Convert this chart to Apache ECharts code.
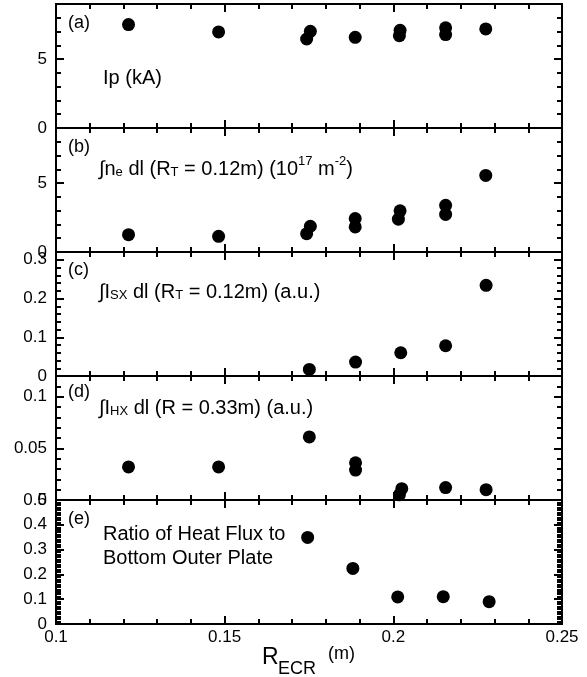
<!DOCTYPE html>
<html>
<head>
<meta charset="utf-8">
<script src="https://cdn.jsdelivr.net/npm/echarts@6/dist/echarts.min.js"></script>
<style>
    html, body { margin: 0; padding: 0; background: #fff; }
    #chart { width: 587px; height: 677px; }
</style>
</head>
<body>
<div id="chart"></div>
<script>
// shared x axis (R_ECR, m)
const xMin = 0.1;
const xMax = 0.25;
const xMajor = 0.05;

// (a) plasma current Ip (kA)
const ipR = [0.1215, 0.1482, 0.1754, 0.1743, 0.1887, 0.2020, 0.2018, 0.2155, 0.2155, 0.2274];
const ipKA = [7.51, 6.97, 7.02, 6.46, 6.58, 7.09, 6.70, 7.27, 6.78, 7.19];

// (b) line integrated density (10^17 m^-2)
const neR = [0.1215, 0.1482, 0.1754, 0.1743, 0.1887, 0.1887, 0.2020, 0.2015, 0.2155, 0.2155, 0.2274];
const neInt = [1.26, 1.14, 1.87, 1.33, 2.43, 1.82, 2.99, 2.38, 3.39, 2.73, 5.56];

// (c) soft X-ray (a.u.)
const sxR = [0.1751, 0.1888, 0.2022, 0.2155, 0.2275];
const sxInt = [0.017, 0.036, 0.060, 0.078, 0.234];

// (d) hard X-ray (a.u.)
const hxR = [0.1215, 0.1482, 0.1751, 0.1888, 0.1888, 0.2025, 0.2018, 0.2155, 0.2275];
const hxInt = [0.032, 0.032, 0.061, 0.036, 0.029, 0.011, 0.005, 0.012, 0.010];

// (e) ratio of heat flux to bottom outer plate
const heatR = [0.1746, 0.1880, 0.2013, 0.2148, 0.2284];
const heatRatio = [0.349, 0.224, 0.109, 0.110, 0.090];

const panels = [
    {x: ipR, y: ipKA, max: 9, major: 5, minor: 1},
    {x: neR, y: neInt, max: 9, major: 5, minor: 1},
    {x: sxR, y: sxInt, max: 0.32, major: 0.1, minor: 0.02},
    {x: hxR, y: hxInt, max: 0.12, major: 0.05, minor: 0.01},
    {x: heatR, y: heatRatio, max: 0.5, major: 0.1, minor: 0.01}
];

const FONT = '"Liberation Sans", Arial, sans-serif';
const GRID_LEFT = 56;
const GRID_WIDTH = 506;
const GRID_TOP = 4;
const GRID_H = 124;

// fresh objects every time, echarts merges defaults into option objects
function tickLine() {
    return {color: '#000', width: 2};
}

function axisLine() {
    return {show: true, onZero: false, lineStyle: {color: '#000', width: 2}};
}

const grid = [];
const xAxis = [];
const yAxis = [];
const series = [];

panels.forEach((p, i) => {
    const last = i === panels.length - 1;
    grid.push({
        left: GRID_LEFT, width: GRID_WIDTH,
        top: GRID_TOP + i * GRID_H, height: GRID_H
    });

    const xIndex = xAxis.length;
    ['bottom', 'top'].forEach(pos => {
        xAxis.push({
            gridIndex: i, type: 'value', position: pos,
            min: xMin, max: xMax, interval: xMajor,
            axisLine: axisLine(),
            axisTick: {show: true, inside: true, length: 8, lineStyle: tickLine()},
            minorTick: {show: true, splitNumber: 5, length: 5, lineStyle: tickLine()},
            splitLine: {show: false},
            minorSplitLine: {show: false},
            axisLabel: {
                show: last && pos === 'bottom',
                color: '#000', fontFamily: FONT, fontSize: 17, margin: 5
            }
        });
    });

    // minor and major ticks kept on separate axes, the max is not always on a major step
    const yIndex = yAxis.length + 1;
    ['left', 'right'].forEach(pos => {
        yAxis.push({
            gridIndex: i, type: 'value', position: pos,
            min: 0, max: p.max, interval: p.minor,
            axisLine: axisLine(),
            axisTick: {show: true, inside: true, length: 5, lineStyle: tickLine()},
            splitLine: {show: false},
            axisLabel: {show: false}
        });
        yAxis.push({
            gridIndex: i, type: 'value', position: pos,
            min: 0, max: p.max, interval: p.major,
            axisLine: axisLine(),
            axisTick: {show: true, inside: true, length: 8, lineStyle: tickLine()},
            splitLine: {show: false},
            axisLabel: {
                show: pos === 'left',
                showMinLabel: true,
                showMaxLabel: p.max === 0.5,
                color: '#000', fontFamily: FONT, fontSize: 17, margin: 9
            }
        });
    });

    series.push({
        type: 'scatter',
        xAxisIndex: xIndex,
        yAxisIndex: yIndex,
        symbol: 'circle',
        symbolSize: 13,
        itemStyle: {color: '#000', opacity: 1},
        data: p.x.map((v, k) => [v, p.y[k]])
    });
});

function label(text, x, y, size) {
    return {
        type: 'text', x: x, y: y, silent: true,
        style: {
            text: text, fill: '#000', align: 'left', verticalAlign: 'middle',
            font: size + 'px ' + FONT
        }
    };
}

function richLabel(text, x, y) {
    return {
        type: 'text', x: x, y: y, silent: true,
        style: {
            text: text, fill: '#000', align: 'left', verticalAlign: 'middle',
            font: '20px ' + FONT,
            rich: {
                m: {fontSize: 20, fontFamily: FONT, lineHeight: 24, verticalAlign: 'bottom', fill: '#000'},
                sb: {fontSize: 13, fontFamily: FONT, lineHeight: 17, verticalAlign: 'bottom', fill: '#000'},
                sp: {fontSize: 13, fontFamily: FONT, lineHeight: 15, verticalAlign: 'top', fill: '#000'}
            }
        }
    };
}

const graphic = [
    label('(a)', 68, 23, 18),
    label('Ip (kA)', 103, 78, 20),
    label('(b)', 68, 147, 18),
    richLabel('{m|\u222Bn}{sb|e}{m| dl (R}{sb|T}{m| = 0.12m) (10}{sp|17}{m| m}{sp|-2}{m|)}', 99, 167),
    label('(c)', 68, 270, 18),
    richLabel('{m|\u222BI}{sb|SX}{m| dl (R}{sb|T}{m| = 0.12m) (a.u.)}', 99, 290),
    label('(d)', 68, 392, 18),
    richLabel('{m|\u222BI}{sb|HX}{m| dl (R = 0.33m) (a.u.)}', 99, 406),
    label('(e)', 68, 519, 18),
    label('Ratio of Heat Flux to', 103, 534, 20),
    label('Bottom Outer Plate', 103, 558, 20),
    // x axis title R_ECR (m)
    label('R', 262, 658, 23),
    label('ECR', 278, 669, 18),
    label('(m)', 328, 654, 18)
];

const chart = echarts.init(document.getElementById('chart'), null, {renderer: 'canvas'});
chart.setOption({
    animation: false,
    backgroundColor: '#fff',
    grid: grid,
    xAxis: xAxis,
    yAxis: yAxis,
    series: series,
    graphic: graphic
});
</script>
</body>
</html>
